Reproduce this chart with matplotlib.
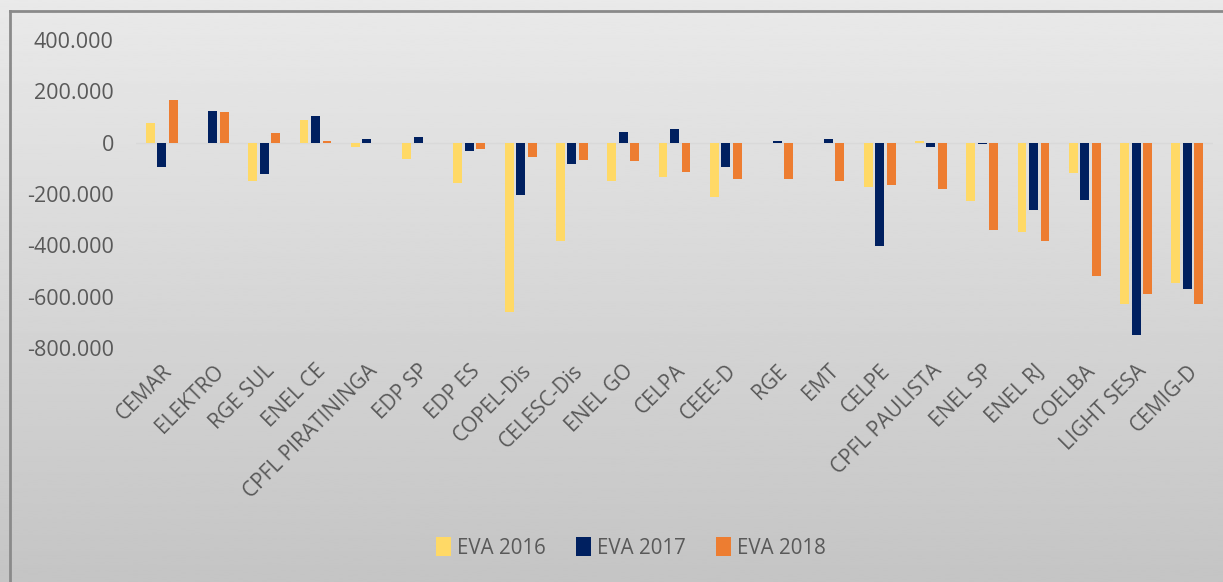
import numpy as np
import matplotlib
matplotlib.use("Agg")
import matplotlib.pyplot as plt
from matplotlib.ticker import FuncFormatter
from matplotlib.lines import Line2D

plt.rcParams['font.family'] = ['Open Sans', 'DejaVu Sans']

# EVA values in thousands
empresas = ['CEMAR', 'ELEKTRO', 'RGE SUL', 'ENEL CE', 'CPFL PIRATININGA', 'EDP SP',
            'EDP ES', 'COPEL-Dis', 'CELESC-Dis', 'ENEL GO', 'CELPA', 'CEEE-D', 'RGE',
            'EMT', 'CELPE', 'CPFL PAULISTA', 'ENEL SP', 'ENEL RJ', 'COELBA',
            'LIGHT SESA', 'CEMIG-D']
eva_2016 = [75, 0, -150, 88, -16, -62, -157, -658, -385, -148, -135, -213, 0,
            0, -173, 5, -228, -347, -120, -629, -546]
eva_2017 = [-94, 122, -124, 104, 13, 22, -31, -203, -83, 40, 53, -95, 5,
            14, -403, -16, -6, -263, -224, -751, -569]
eva_2018 = [166, 120, 36, 8, -2, 0, -26, -56, -66, -73, -114, -142, -142,
            -148, -166, -180, -340, -385, -521, -589, -630]
series = ['EVA 2016', 'EVA 2017', 'EVA 2018']
cores = ['#FFD966', '#002060', '#ED7D31']

W, H = 1223, 582
fig = plt.figure(figsize=(W / 100, H / 100), dpi=100)

# background gradient + chart frame
bg = fig.add_axes([0, 0, 1, 1], zorder=-2)
grad = np.linspace(0.915, 0.77, 256).reshape(-1, 1)
bg.imshow(grad, cmap='gray', vmin=0, vmax=1, aspect='auto', extent=[0, 1, 0, 1])
bg.set_xlim(0, 1)
bg.set_ylim(0, 1)
bg.axis('off')
fx0 = 10 / W
fy1 = 1 - 11 / H
fig.add_artist(Line2D([fx0, fx0], [0, fy1], color='#8a8a8a', lw=2))
fig.add_artist(Line2D([fx0, 1], [fy1, fy1], color='#8a8a8a', lw=2))

ax = fig.add_axes([136 / W, 1 - 348 / H, (1213 - 136) / W, (348 - 40) / H])
ax.set_facecolor('none')

x = np.arange(len(empresas))
largura = 0.175
passo = 0.224
for i, (vals, nome, cor) in enumerate(zip([eva_2016, eva_2017, eva_2018], series, cores)):
    ax.bar(x + (i - 1) * passo, vals, width=largura, color=cor, label=nome, zorder=3)

ax.axhline(0, color='#d9d9d9', lw=1, zorder=2)
ax.set_xlim(-0.5, len(empresas) - 0.5)
ax.set_ylim(-800, 400)
ax.set_yticks(np.arange(-800, 401, 200))
ax.yaxis.set_major_formatter(FuncFormatter(lambda v, p: '{:,.0f}'.format(v * 1000).replace(',', '.')))
ax.set_xticks(x)
ax.set_xticklabels(empresas, rotation=45, ha='right', rotation_mode='anchor')
ax.tick_params(axis='x', length=0, pad=9, labelsize=15, labelcolor='#595959')
ax.tick_params(axis='y', length=0, pad=16, labelsize=15.5, labelcolor='#595959')
for s in ax.spines.values():
    s.set_visible(False)

fig.legend(loc='center', bbox_to_anchor=(631 / W, 1 - 548 / H), ncol=3, frameon=False,
           fontsize=14.8, labelcolor='#595959', handlelength=0.7, handleheight=1.0,
           handletextpad=0.3, columnspacing=1.5)

fig.savefig('out.png', dpi=100)
